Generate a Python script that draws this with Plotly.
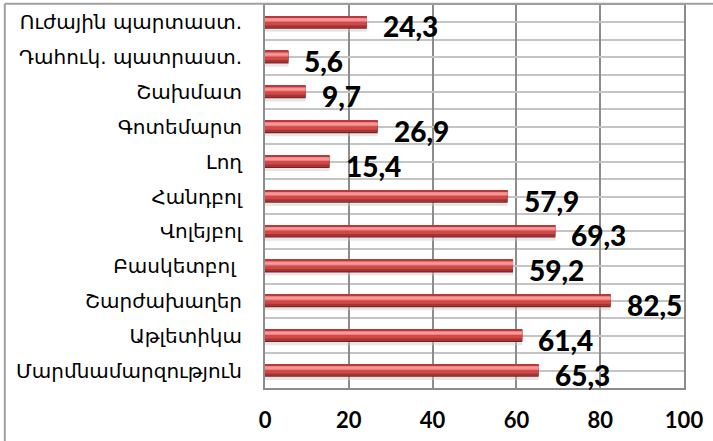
import plotly.graph_objects as go

categories = [
    "Ուժային պարտաստ.",
    "Դահուկ. պատրաստ.",
    "Շախմատ",
    "Գոտեմարտ",
    "Լող",
    "Հանդբոլ",
    "Վոլեյբոլ",
    "Բասկետբոլ\u00a0",
    "Շարժախաղեր",
    "Աթլետիկա",
    "Մարմնամարզություն",
]
values = [24.3, 5.6, 9.7, 26.9, 15.4, 57.9, 69.3, 59.2, 82.5, 61.4, 65.3]
x_ticks = [0, 20, 40, 60, 80, 100]

n = len(categories)
ypos = [n - 1 - i for i in range(n)]

fig = go.Figure()

# layered bars to imitate the shaded 3D bar
layers = [
    # (offset, width, color)
    (-0.27, 0.10, "rgba(200,200,200,0.45)"),
    (-0.18, 0.36, "#7a2222"),
    (-0.15, 0.31, "#a63434"),
    (-0.08, 0.21, "#d04848"),
    (0.02, 0.12, "#f07c7c"),
    (0.05, 0.06, "#f49a9a"),
    (0.15, 0.03, "#b83a3a"),
]
for off, w, col in layers:
    fig.add_trace(go.Bar(
        x=values, y=ypos, orientation="h",
        offset=off, width=w,
        marker=dict(color=col, line=dict(width=0)),
        hoverinfo="skip", showlegend=False,
    ))

for v, y in zip(values, ypos):
    fig.add_annotation(
        x=v, y=y, text=f"{v:.1f}".replace(".", ","),
        xanchor="left", yanchor="middle", xshift=14, yshift=-4,
        showarrow=False,
        font=dict(family="Lato", size=28, color="#000000", weight=900),
    )

fig.update_layout(
    barmode="overlay",
    width=713, height=441,
    margin=dict(l=265, r=29, t=5, b=53),
    paper_bgcolor="white", plot_bgcolor="white",
    xaxis=dict(
        range=[0, 100], tickvals=x_ticks, ticktext=[str(t) for t in x_ticks],
        automargin=False,
        showgrid=True, gridcolor="#8c8c8c", gridwidth=2,
        zeroline=False,
        showline=True, linecolor="#8c8c8c", linewidth=2, mirror=True,
        ticks="outside", ticklen=12, tickcolor="rgba(0,0,0,0)",
        tickfont=dict(family="Lato", size=22, color="#000000", weight="bold"),
    ),
    yaxis=dict(
        range=[-0.5, n - 0.5], tickvals=ypos, ticktext=categories,
        automargin=False,
        showgrid=True, gridcolor="#c4c4c4", gridwidth=2,
        minor=dict(tickvals=[i - 0.5 for i in range(n + 1)], showgrid=True,
                   gridcolor="#c4c4c4", gridwidth=2),
        zeroline=False,
        showline=True, linecolor="#8c8c8c", linewidth=2, mirror=True,
        ticks="outside", ticklen=17, tickcolor="rgba(0,0,0,0)",
        tickfont=dict(family="DejaVu Sans", size=20, color="#000000"),
    ),
    shapes=[
        dict(type="line", xref="paper", yref="paper", x0=-0.621, x1=-0.621,
             y0=-0.2, y1=1.003, line=dict(color="#a0a0a0", width=2)),
        dict(type="line", xref="paper", yref="paper", x0=-0.621, x1=1.1,
             y0=1.003, y1=1.003, line=dict(color="#a0a0a0", width=2)),
    ],
)

fig.write_html("out.html",
               config={"displayModeBar": False},
               post_script="document.body.style.margin='0';document.body.style.overflow='hidden';")
